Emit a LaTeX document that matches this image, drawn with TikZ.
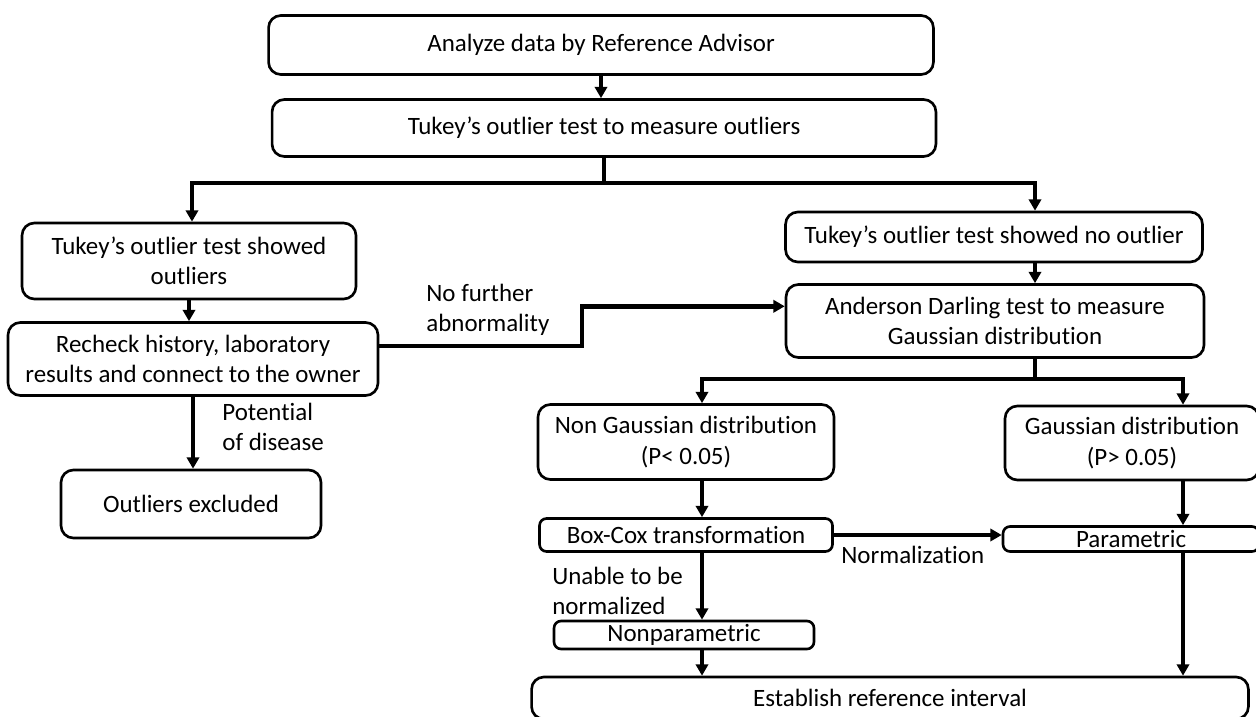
\documentclass[tikz,border=0pt]{standalone}
\usepackage{fontspec}
\setmainfont{Carlito}[Ligatures=NoCommon]
\usepackage{tikz}
\usetikzlibrary{arrows.meta}

\begin{document}
\begin{tikzpicture}[x=.02cm, y=-.02cm,
    every node/.style={font=\fontsize{14.2}{17.2}\selectfont},
    box/.style={draw, line width=1.5pt, rounded corners=7pt, align=center, inner sep=1pt},
    flat/.style={box, rounded corners=4pt},
    arr/.style={line width=1.9pt, -{Triangle[length=6.5pt, width=7pt]}},
    lbl/.style={anchor=west, align=left, inner sep=0pt}]
  \useasboundingbox (0,0) rectangle (1256,716);
  % boxes
  \node [box, minimum width=13.3cm, minimum height=1.18cm] at (601,45) (analyze) {Analyze data by Reference Advisor};
  \node [box, minimum width=13.28cm, minimum height=1.14cm] at (604,128) (tukey) {Tukey’s outlier test to measure outliers};
  \node [box, minimum width=6.68cm, minimum height=1.52cm] at (189,261) (outl) {Tukey’s outlier test showed\\outliers};
  \node [box, minimum width=8.34cm, minimum height=1cm] at (994,237) (noout) {Tukey’s outlier test showed no outlier};
  \node [box, minimum width=7.4cm, minimum height=1.46cm] at (193,359) (recheck) {Recheck history, laboratory\\results and connect to the owner};
  \node [box, minimum width=5.2cm, minimum height=1.36cm] at (191,504) (excl) {Outliers excluded};
  \node [box, minimum width=8.36cm, minimum height=1.46cm] at (995,321) (anderson) {Anderson Darling test to measure\\Gaussian distribution};
  \node [box, minimum width=5.92cm, minimum height=1.5cm] at (686,442) (nongauss) {Non Gaussian distribution\\(P< 0.05)};
  \node [box, minimum width=5.08cm, minimum height=1.48cm] at (1132,443) (gauss) {Gaussian distribution\\(P> 0.05)};
  \node [flat, minimum width=5.86cm, minimum height=.66cm] at (686,535) (boxcox) {Box-Cox transformation};
  \node [flat, minimum width=5.2cm, minimum height=.56cm] at (684,635) (nonpar) {Nonparametric};
  \node [flat, minimum width=5.12cm, minimum height=.5cm] at (1131,539) (param) {Parametric};
  \node [box, minimum width=14.34cm, minimum height=.84cm] at (890,698) (establish) {Establish reference interval};
  % turning points
  \coordinate (s1l) at (192,183);
  \coordinate (s1r) at (1035,183);
  \coordinate (k1) at (582,0);
  \coordinate (s2l) at (702,379);
  \coordinate (s2r) at (1183,379);
  % connectors
  \draw [arr] (analyze.south) -- (analyze.south |- tukey.north);
  \draw [arr] (tukey.south) |- (s1l) -- (s1l |- outl.north);
  \draw [arr] (tukey.south) |- (s1r) -- (s1r |- noout.north);
  \draw [arr] (outl.south) -- (outl.south |- recheck.north);
  \draw [arr] (recheck.south) -- (recheck.south |- excl.north);
  \draw [arr, line width=2.6pt] (recheck.4) -- (recheck.4 -| k1) |- (anderson.176);
  \draw [arr] (noout.south -| s1r) -- (anderson.north -| s1r);
  \draw [arr] (anderson.south -| s1r) |- (s2l) -- (s2l |- nongauss.north);
  \draw [arr] (anderson.south -| s1r) |- (s2r) -- (s2r |- gauss.north);
  \draw [arr] (nongauss.south -| s2l) -- (boxcox.north -| s2l);
  \draw [arr] (boxcox.south -| s2l) -- (nonpar.north -| s2l);
  \draw [arr] (nonpar.south -| s2l) -- (establish.north -| s2l);
  \draw [arr, line width=2.4pt] (boxcox.east) -- (param.west |- boxcox.east);
  \draw [arr] (gauss.south -| s2r) -- (param.north -| s2r);
  \draw [arr] (param.south -| s2r) -- (establish.north -| s2r);
  % labels
  \node [lbl] at (426,310) (nofurther) {No further\\abnormality};
  \node [lbl] at (222,427) (potential) {Potential\\of disease};
  \node [lbl] at (552,591) (unable) {Unable to be\\normalized};
  \node [lbl] at (841,555) (normal) {Normalization};
\end{tikzpicture}
\end{document}
